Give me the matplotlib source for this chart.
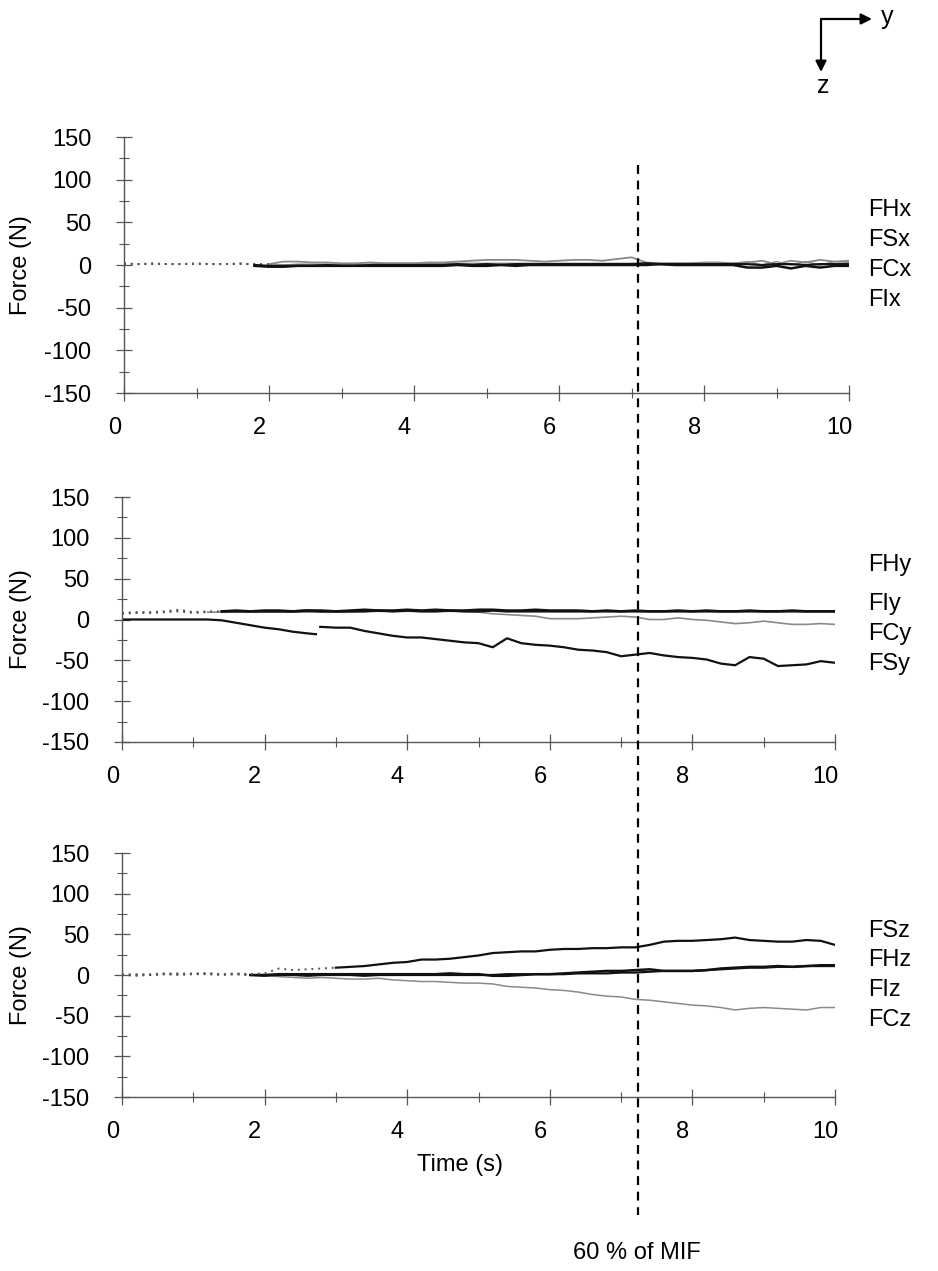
import numpy as np
import matplotlib
matplotlib.use("Agg")
import matplotlib.pyplot as plt
from matplotlib.lines import Line2D
from matplotlib.patches import FancyArrowPatch
from matplotlib.ticker import MultipleLocator
from matplotlib.transforms import ScaledTranslation

plt.rcParams['font.family'] = ['Liberation Sans', 'DejaVu Sans']
plt.rcParams['axes.unicode_minus'] = False

nan = np.nan
# sample times (s)
time = np.linspace(0, 10, 51)

# x direction
FHx = [2, 1, 2, 1, 1, 2, 1, 1, 2, 0,
       -1, -1, -1, -1, 0, -1, -1, 0, 0, 0,
       0, 0, 0, 1, 0, 1, 0, 1, 1, 1,
       1, 1, 1, 1, 1, 1, 2, 1, 1, 1,
       1, 1, 1, 1, 0, 1, 1, 0, 1, 1, 1]
FSx = [1, 1, 1, 1, 1, 1, 1, 1, 1, 1,
       1, 4, 4, 3, 3, 2, 2, 3, 2, 2,
       2, 3, 3, 4, 5, 6, 6, 6, 5, 4,
       5, 6, 6, 5, 7, 9, 3, 2, 2, 2,
       3, 3, 2, 3, 5, 1, 5, 3, 6, 4, 5]
FCx = [nan, nan, nan, nan, nan, nan, nan, nan, nan, -1,
       -2, -2, -1, -1, -1, -1, -1, -1, -1, -1,
       -1, -1, -1, 0, -1, -1, 0, -1, 0, 0,
       0, 0, 0, 0, 0, 0, 0, 1, 0, 0,
       0, 0, 0, -3, -3, -1, -4, -1, -3, -1, -1]
FIx = [nan, nan, nan, nan, nan, nan, nan, nan, nan, nan,
       0, 0, 1, 1, 1, 1, 1, 1, 2, 2,
       2, 2, 2, 2, 2, 2, 2, 2, 2, 2,
       2, 2, 2, 2, 2, 2, 2, 2, 2, 2,
       2, 2, 2, 4, 0, 4, 0, 4, 0, 4, 3]

# y direction
FHy = [nan] * 7 + [10, 11, 10, 11, 11, 10, 11, 11, 10, 11,
                   12, 11, 11, 12, 11, 12, 11, 11, 12, 12,
                   11, 11, 12, 11, 11, 11, 10, 11, 10, 11,
                   10, 10, 11, 10, 11, 10, 10, 11, 10, 10,
                   11, 10, 10, 10]
FIy = [8, 9, 9, 10, 12, 9, 10, 10,
       10, 10, 10, 10, 10, 11, 10, 10, 10, 10,
       11, 10, 11, 10, 10, 11, 10, 10, 11, 10,
       10, 10, 10, 10, 10, 10, 10, 10, 10, 10,
       10, 10, 10, 10, 10, 10, 10, 10, 10, 10,
       10, 10, 10]
FCy = [7, 8, 8, 9, 10, 8, 9,
       9, 9, 9, 9, 9, 9, 9, 9, 9, 9, 10, 10, 10, 10, 10, 10, 10, 10,
       9, 7, 6, 5, 4, 1, 1, 1, 2, 3, 4, 3, 0, 0, 2, 0, -1, -3, -5,
       -4, -2, -4, -6, -6, -5, -6]
# FSy has a short break in the record near 2.75 s
FSy_time = [0, 0.2, 0.4, 0.6, 0.8, 1.0, 1.2, 1.4, 1.6, 1.8,
            2.0, 2.2, 2.4, 2.6, 2.72, 2.75, 2.78, 3.0, 3.2, 3.4, 3.6, 3.8,
            4.0, 4.2, 4.4, 4.6, 4.8, 5.0, 5.2, 5.4, 5.6, 5.8,
            6.0, 6.2, 6.4, 6.6, 6.8, 7.0, 7.2, 7.4, 7.6, 7.8,
            8.0, 8.2, 8.4, 8.6, 8.8, 9.0, 9.2, 9.4, 9.6, 9.8, 10.0]
FSy = [0, 0, 0, 0, 0, 0, 0, -1, -4, -7,
       -10, -12, -15, -17, -18, nan, -9, -10, -10, -14, -17, -20,
       -22, -22, -24, -26, -28, -29, -34, -23, -29, -31,
       -32, -34, -37, -38, -40, -45, -43, -41, -44, -46,
       -47, -49, -54, -56, -46, -48, -57, -56, -55, -51, -53]

# z direction
FSz = [0, 1, 0, 1, 2, 1, 2, 1, 2, 1,
       2, 8, 6, 7, 8, 9, 10, 11, 13, 15,
       16, 19, 19, 20, 22, 24, 27, 28, 29, 29,
       31, 32, 32, 33, 33, 34, 34, 37, 41, 42,
       42, 43, 44, 46, 43, 42, 41, 41, 43, 42, 37]
FHz = [1, 0, 1, 2, 1, 2, 2, 1, 1,
       0, 0, 1, 1, 1, 1, 1, 1, 1, 1, 1,
       1, 1, 1, 2, 1, 1, -1, -1, 0, 1,
       1, 2, 3, 4, 5, 5, 6, 7, 5, 5,
       5, 6, 8, 9, 10, 10, 11, 10, 11, 12, 12]
FIz = [nan] * 9 + [0, -1, 0, 0, -1, 0, 0, 0, -1, 0,
                   0, 0, 0, 0, 0, 0, 0, 0, 1, 1,
                   1, 1, 1, 2, 2, 2, 3, 3, 4, 5,
                   5, 5, 6, 7, 8, 9, 9, 10, 10, 11,
                   11, 11]
FCz = [0, -1, 0, 1, 0, 1, 1, 0, 1, 0, 0,
       -2, -3, -4, -3, -4, -5, -5, -4, -6, -7,
       -8, -8, -9, -10, -10, -11, -14, -15, -16, -18,
       -19, -21, -24, -26, -27, -30, -31, -33, -35, -37,
       -38, -40, -43, -41, -40, -41, -42, -43, -40, -40]

BLACK = '#111111'
GRAY = '#8a8a8a'

# (times, values, colour, width, dotted until t)
panels = [
    [(time, FIx, GRAY, 1.0, -1), (time, FSx, GRAY, 1.3, 2.0),
     (time, FCx, BLACK, 1.8, -1), (time, FHx, BLACK, 1.6, 1.8)],
    [(time, FCy, GRAY, 1.2, 1.2), (time, FHy, BLACK, 1.8, -1),
     (time, FIy, BLACK, 1.8, 1.4), (FSy_time, FSy, BLACK, 1.6, -1)],
    [(time, FCz, GRAY, 1.1, 2.0), (time, FIz, BLACK, 1.6, -1),
     (time, FHz, BLACK, 1.8, 1.8), (time, FSz, BLACK, 1.6, 3.0)],
]
labels = [['FHx', 'FSx', 'FCx', 'FIx'],
          ['FHy', 'FIy', 'FCy', 'FSy'],
          ['FSz', 'FHz', 'FIz', 'FCz']]
label_y = [[210, 240, 270, 300], [565, 604, 634, 664], [931, 960, 990, 1020]]

W, H = 938, 1271
FS = 17
fig = plt.figure(figsize=(W / 100, H / 100), dpi=100)

boxes = [(124, 849, 137, 393), (122, 835, 497, 742), (122, 835, 853, 1097)]


def draw(ax, t, y, color, lw, dot_until):
    t = np.array(t, float)
    y = np.array(y, float)
    early = t <= dot_until + 1e-9
    late = t >= dot_until - 1e-9
    if early.any():
        ax.plot(t[early], y[early], color='#555555', lw=1.4, ls=(0, (1, 2.5)))
    ax.plot(t[late], y[late], color=color, lw=lw)


for i, (x0, x1, y0, y1) in enumerate(boxes):
    ax = fig.add_axes([x0 / W, 1 - y1 / H, (x1 - x0) / W, (y1 - y0) / H])
    for tt, vals, col, lw, du in panels[i]:
        draw(ax, tt, vals, col, lw, du)
    ax.set_xlim(0, 10)
    ax.set_ylim(-150, 150)
    for s in ['top', 'right']:
        ax.spines[s].set_visible(False)
    for s in ['left', 'bottom']:
        ax.spines[s].set_color('#555555')
        ax.spines[s].set_linewidth(1.0)
    ax.xaxis.set_major_locator(MultipleLocator(2))
    ax.xaxis.set_minor_locator(MultipleLocator(1))
    ax.yaxis.set_major_locator(MultipleLocator(50))
    ax.yaxis.set_minor_locator(MultipleLocator(25))
    ax.tick_params(which='major', direction='inout', length=11, width=0.9,
                   color='#555555', labelsize=FS)
    ax.tick_params(which='minor', direction='inout', length=7, width=0.8, color='#555555')
    ax.tick_params(axis='y', which='major', pad=18)
    ax.tick_params(axis='x', which='major', pad=12)
    off = ScaledTranslation(-7 / 72, 0, fig.dpi_scale_trans)
    for lab in ax.get_xticklabels():
        lab.set_transform(lab.get_transform() + off)
    ax.set_ylabel('Force (N)', fontsize=FS)
    ax.yaxis.set_label_coords((32 - x0) / (x1 - x0), 0.5)
    ax.patch.set_alpha(0)
    for name, ly in zip(labels[i], label_y[i]):
        fig.text(868 / W, 1 - ly / H, name, fontsize=FS, ha='left', va='center')

fig.text(460 / W, 1 - 1165 / H, 'Time (s)', fontsize=FS, ha='center', va='center')

# 60 % of MIF marker
fig.add_artist(Line2D([638 / W, 638 / W], [1 - 165 / H, 1 - 1215 / H], color='black',
                      lw=1.6, ls=(0, (4, 3))))
fig.text(637 / W, 1 - 1253 / H, '60 % of MIF', fontsize=FS, ha='center', va='center')

# coordinate arrows
arrow = dict(arrowstyle='-|>', color='black', lw=1.6, mutation_scale=16)
fig.add_artist(FancyArrowPatch((821 / W, 1 - 19 / H), (872 / W, 1 - 19 / H),
                               transform=fig.transFigure, shrinkA=0, shrinkB=0, **arrow))
fig.add_artist(FancyArrowPatch((821 / W, 1 - 19 / H), (821 / W, 1 - 72 / H),
                               transform=fig.transFigure, shrinkA=0, shrinkB=0, **arrow))
fig.text(887 / W, 1 - 17 / H, 'y', fontsize=FS + 1, ha='center', va='center')
fig.text(823 / W, 1 - 86 / H, 'z', fontsize=FS + 1, ha='center', va='center')

fig.savefig('out.png', dpi=100)
